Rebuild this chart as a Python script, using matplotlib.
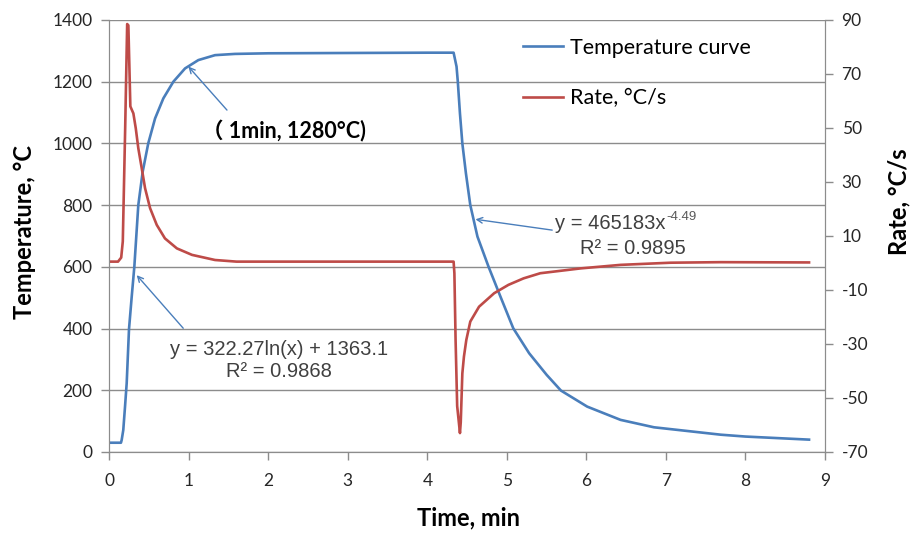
import matplotlib
matplotlib.use("Agg")
import matplotlib.pyplot as plt

# temperature curve (left axis)
time_temp = [0, 0.147, 0.156, 0.176, 0.198, 0.219, 0.248, 0.282, 0.315, 0.365, 0.42,
             0.49, 0.576, 0.68, 0.806, 0.953, 1.12, 1.33, 1.58, 2.0, 3.0, 4.0, 4.33,
             4.367, 4.383, 4.41, 4.44, 4.485, 4.54, 4.63, 4.77, 4.92, 5.08, 5.28,
             5.5, 5.68, 6.01, 6.43, 6.85, 7.27, 7.69, 8.0, 8.4, 8.8]
temp = [30, 30, 39, 71, 147, 223, 398, 503, 600, 800, 908,
        1000, 1081, 1146, 1200, 1243, 1270, 1286, 1290, 1292, 1293, 1294, 1294,
        1249, 1200, 1097, 1000, 903, 800, 698, 600, 503, 401, 320,
        250, 199, 147, 104, 80, 68, 56, 50, 45, 40]

# heating / cooling rate (right axis)
time_rate = [0, 0.11, 0.15, 0.17, 0.2, 0.225, 0.24, 0.265, 0.275, 0.303, 0.333,
             0.365, 0.408, 0.45, 0.513, 0.597, 0.70, 0.85, 1.04, 1.33, 1.6, 4.33,
             4.34, 4.355, 4.375, 4.41, 4.42, 4.44, 4.46, 4.49, 4.54, 4.65, 4.84,
             5.02, 5.21, 5.42, 5.93, 6.43, 7.06, 7.69, 8.8]
rate = [0.5, 0.5, 2, 8, 50, 88.5, 88, 58, 57.3, 55.4, 49.9,
        42.5, 35.1, 27.7, 20.3, 14.1, 9.1, 5.4, 3.0, 1.1, 0.5, 0.5,
        -3.8, -28.5, -53, -63, -59, -40.9, -34.7, -28.5, -21.7, -16.2, -11.2,
        -8.1, -5.7, -3.8, -2.0, -0.7, 0.1, 0.3, 0.2]

x_ticks = list(range(0, 10))
temp_ticks = list(range(0, 1401, 200))
rate_ticks = list(range(-70, 91, 20))

blue = "#4a7ebb"
red = "#be4b48"
grey = "#8c8c8c"
txt = "#262626"
note = "#404040"

plt.rcParams["font.family"] = ["Lato", "DejaVu Sans"]
plt.rcParams["axes.unicode_minus"] = False

fig = plt.figure(figsize=(9.16, 5.34), dpi=100)
ax = fig.add_axes([0.1193, 0.1536, 0.7813, 0.809])
ax2 = ax.twinx()

l1, = ax.plot(time_temp, temp, color=blue, lw=1.9, label="Temperature curve")
l2, = ax2.plot(time_rate, rate, color=red, lw=1.9, label="Rate, °C/s")

ax.set_xlim(0, 9)
ax.set_ylim(0, 1400)
ax2.set_ylim(-70, 90)
ax.set_xticks(x_ticks)
ax.set_yticks(temp_ticks)
ax2.set_yticks(rate_ticks)

ax.grid(axis="y", color=grey, lw=1)
ax.set_axisbelow(True)
for a in (ax, ax2):
    for s in a.spines.values():
        s.set_color(grey)
    a.spines["top"].set_visible(False)
ax.tick_params(axis="both", colors=grey, labelcolor=txt, labelsize=12.5, length=6, width=1)
ax.tick_params(axis="x", pad=9)
ax.tick_params(axis="y", pad=6)
ax2.tick_params(axis="y", colors=grey, labelcolor=txt, labelsize=12.5, length=6, width=1, pad=6)

# axis titles
fig.text(0.027, 0.5655, "Temperature, °C", rotation=90, ha="center", va="center",
         fontsize=17, fontweight="bold", color="black")
fig.text(0.981, 0.622, "Rate, °C/s", rotation=90, ha="center", va="center",
         fontsize=17, fontweight="bold", color="black")
fig.text(0.511, 0.03, "Time, min", ha="center", va="center",
         fontsize=17, fontweight="bold", color="black")

# legend
ax2.legend(handles=[l1, l2], loc="upper left", bbox_to_anchor=(0.571, 0.929),
           bbox_transform=fig.transFigure, frameon=False, fontsize=15.5,
           handlelength=1.85, handletextpad=0.35, labelspacing=1.4,
           borderpad=0, borderaxespad=0)

arrow = dict(arrowstyle="->", color=blue, lw=1, shrinkA=0, shrinkB=0)

ax.annotate("", xy=(0.995, 1249), xytext=(1.48, 1108), arrowprops=arrow)
ax.text(1.17, 1038, "（ 1min, 1280°C)", fontsize=15.5, fontweight="bold", color="black",
        ha="left", va="center", family=["Lato", "Noto Sans CJK SC"])

ax.annotate("", xy=(0.345, 573), xytext=(0.93, 401), arrowprops=arrow)
ax.text(2.13, 297, "y = 322.27ln(x) + 1363.1\nR² = 0.9868", fontsize=14.5, color=note,
        ha="center", va="center", multialignment="center", family="Liberation Sans")

ax.annotate("", xy=(4.605, 754), xytext=(5.57, 719), arrowprops=arrow)
t1 = ax.text(5.60, 739, "y = 465183x", fontsize=14.5, color=note,
             ha="left", va="center", family="Liberation Sans")
ax.text(6.58, 661, "R² = 0.9895", fontsize=14.5, color=note,
        ha="center", va="center", family="Liberation Sans")

# superscript exponent placed right after the first line
fig.canvas.draw()
bb = t1.get_window_extent()
fig.text((bb.x1 + 1) / fig.bbox.width, (bb.y1 + 3) / fig.bbox.height, "-4.49",
         fontsize=9.5, color="#595959", ha="left", va="top", family="Liberation Sans")

fig.savefig("out.png", dpi=100)
